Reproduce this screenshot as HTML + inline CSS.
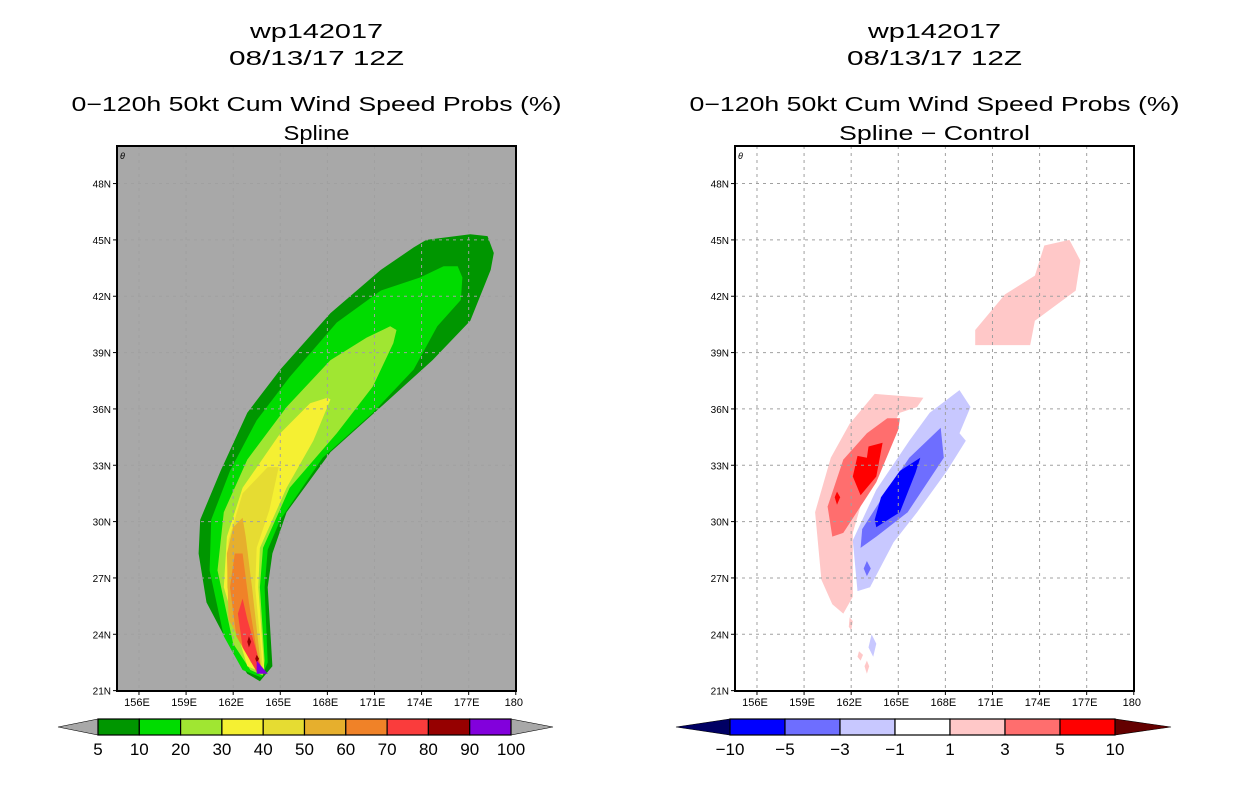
<!DOCTYPE html>
<html><head><meta charset="utf-8"><style>
body{margin:0;background:#fff;width:1236px;height:800px;overflow:hidden}
svg{position:absolute;left:0;top:0}
text{font-family:"Liberation Sans",sans-serif;fill:#000}
</style></head><body>
<svg id="s" width="1236" height="800"></svg>
<script>
// ---- axis data ----
const lonTicks=[156,159,162,165,168,171,174,177,180];
const lonLabels=["156E","159E","162E","165E","168E","171E","174E","177E","180"];
const latTicks=[21,24,27,30,33,36,39,42,45,48];
const latLabels=["21N","24N","27N","30N","33N","36N","39N","42N","45N","48N"];
// ---- left panel probability contours [lon,lat] ----
const probColors=["#009600","#00dc00","#a0e632","#f5f032","#e6dc32","#e6af2d","#f08228","#fa3c3c","#960000","#8200dc"];
const probLevels=["5","10","20","30","40","50","60","70","80","90","100"];
const prob5=[[163.7,21.5],[164.5,22.3],[164.2,26.5],[164.5,28.3],[165.4,30.5],[168.2,33.7],[171.4,36.1],[174.7,38.6],[177.1,40.7],[178.4,43.4],[178.6,44.3],[178.2,45.2],[177.1,45.3],[174.3,45.0],[173.5,44.6],[171.4,43.4],[168.2,41.1],[165.0,38.1],[162.9,35.8],[161.2,32.7],[159.9,30.1],[159.8,28.3],[160.3,25.7],[162.0,23.0],[162.9,21.9]];
const prob10=[[163.8,21.7],[164.2,22.5],[164.0,26.5],[164.2,28.5],[165.0,30.1],[167.7,33.4],[170.9,35.8],[173.5,38.1],[175.0,40.4],[176.5,41.8],[176.6,43.0],[176.3,43.6],[175.4,43.6],[173.9,43.0],[171.4,42.3],[168.6,40.6],[165.6,37.7],[163.5,35.4],[161.8,32.7],[160.6,30.1],[160.5,27.4],[161.4,23.9],[162.6,22.1]];
const prob20=[[163.9,21.8],[164.0,22.6],[163.7,26.5],[163.9,28.6],[165.6,31.8],[168.6,34.7],[170.9,37.2],[172.2,39.5],[172.4,40.2],[172.0,40.4],[170.5,39.8],[168.2,38.6],[165.4,36.1],[162.9,33.3],[161.4,30.5],[161.0,27.4],[162.0,23.5],[163.1,22.1]];
const prob30=[[164.0,21.9],[163.6,26.5],[163.7,28.6],[165.4,31.8],[167.1,34.3],[168.2,36.5],[168.0,36.6],[166.9,36.3],[165.0,34.7],[162.6,31.8],[161.6,29.2],[161.4,26.5],[162.9,22.3]];
const prob40=[[163.9,22.1],[163.4,26.5],[163.5,28.6],[164.3,30.6],[164.9,32.9],[164.2,32.9],[162.6,31.5],[161.7,29.0],[161.6,26.5],[163.1,22.5]];
const prob50=[[163.8,22.1],[163.2,26.5],[162.8,29.2],[162.6,30.2],[162.0,29.7],[161.6,28.3],[161.7,24.8],[163.2,22.5]];
const prob60=[[163.7,22.1],[163.0,25.7],[162.6,28.3],[162.1,28.3],[161.8,26.5],[162.2,23.9],[163.3,22.3]];
const prob70=[[163.9,21.9],[162.9,24.8],[162.6,25.9],[162.3,25.1],[162.6,23.3],[163.5,22.0]];
const prob80a=[[163.0,23.9],[163.15,23.6],[163.0,23.3],[162.9,23.6]];
const prob80b=[[163.5,22.9],[163.65,22.7],[163.5,22.5],[163.4,22.7]];
const prob90=[[163.5,22.6],[164.2,21.9],[163.5,21.9]];
const leftLayers=[[prob5,0],[prob10,1],[prob20,2],[prob30,3],[prob40,4],[prob50,5],[prob60,6],[prob70,7],[prob80a,8],[prob80b,8],[prob90,9]];
// ---- right panel difference contours ----
const diffColors=["#0000ff","#6e6eff","#c8c8ff","#ffffff","#ffc8c8","#ff6e6e","#ff0000"];
const diffLevels=["-10","-5","-3","-1","1","3","5","10"];
const posLight=[[163.5,36.8],[166.6,36.6],[166.2,36.1],[165.1,35.8],[163.8,34.0],[162.9,31.7],[162.1,29.4],[162.1,26.0],[161.5,25.1],[160.8,25.6],[160.1,26.9],[159.7,30.5],[160.7,33.4],[161.9,35.2]];
const posLight2=[[169.9,39.4],[173.4,39.4],[173.7,40.7],[176.3,42.3],[176.6,43.9],[175.9,45.0],[174.3,44.7],[173.7,43.1],[171.8,42.1],[169.9,40.2]];
const posLight3=[[161.9,24.9],[162.1,24.7],[162.0,24.2],[161.85,24.4]];
const posLight4=[[162.5,23.1],[162.75,22.9],[162.6,22.6],[162.4,22.8]];
const posLight5=[[163.0,22.6],[163.15,22.3],[163.0,21.9],[162.85,22.3]];
const posMid=[[165.1,35.5],[165.0,34.9],[163.6,32.1],[161.5,29.4],[160.8,29.2],[160.5,30.8],[161.5,33.3],[163.0,34.7],[164.3,35.5]];
const posHigh=[[164.0,34.2],[163.6,32.4],[162.6,31.4],[162.1,32.4],[162.4,33.5],[163.0,33.4],[163.1,34.0]];
const posHigh2=[[161.1,31.6],[161.3,31.3],[161.1,30.9],[160.95,31.3]];
const negLight=[[167.0,35.8],[168.9,37.0],[169.6,36.1],[168.9,34.7],[169.3,34.3],[168.1,32.7],[166.2,30.5],[164.7,28.9],[163.2,26.5],[162.4,26.3],[162.1,29.0],[163.6,31.7],[165.7,34.3]];
const negLight2=[[163.3,24.0],[163.6,23.5],[163.4,22.8],[163.1,23.3]];
const negMid=[[167.7,35.0],[167.9,33.4],[165.6,30.5],[163.6,29.2],[162.6,28.6],[162.7,29.6],[164.0,31.3],[165.7,33.4]];
const negMid2=[[163.0,27.9],[163.25,27.5],[163.0,27.1],[162.8,27.5]];
const negHigh=[[166.4,33.4],[166.1,32.6],[165.1,30.5],[163.6,29.7],[163.5,30.1],[163.9,31.3],[165.1,32.7]];
const rightLayers=[[posLight,4],[posLight2,4],[posLight3,4],[posLight4,4],[posLight5,4],[posMid,5],[posHigh,6],[posHigh2,6],[negLight,2],[negLight2,2],[negMid,1],[negMid2,1],[negHigh,0]];

const NS="http://www.w3.org/2000/svg";
const svg=document.getElementById('s');
function mk(t,a,p){const e=document.createElementNS(NS,t);for(const k in a)e.setAttribute(k,a[k]);(p||svg).appendChild(e);return e;}
const LON0=154.6,LAT1=50,PXD=15.7,PYD=18.78,W=399,H=545,Y0=146;
function panel(x0,bg,layers,colors,titles,tw,name){
  const g=mk('g',{});
  
  
  const xs=lon=>x0+(lon-LON0)*PXD, ys=lat=>Y0+(LAT1-lat)*PYD;
  const cx=x0+W/2;
  titles.forEach((t,i)=>{const tx=mk('text',{x:cx,y:[38,65,111,140][i],'text-anchor':'middle','font-size':20,textLength:tw[i],lengthAdjust:'spacingAndGlyphs'},g);tx.textContent=t;
    
    });
  const bgr=mk('rect',{x:x0,y:Y0,width:W,height:H,fill:bg},g);
  
  
  const cg=mk('g',{},g);
  layers.forEach(([pts,ci])=>{const p=mk('polygon',{points:pts.map(q=>xs(q[0]).toFixed(1)+','+ys(q[1]).toFixed(1)).join(' '),fill:colors[ci]},cg);
    
    });
  lonTicks.forEach((l,i)=>{const x=xs(l);
    if(i<lonTicks.length-1)mk('line',{x1:x,x2:x,y1:Y0,y2:Y0+H,stroke:'#a0a0a0','stroke-dasharray':'3,4'},g);
    mk('line',{x1:x,x2:x,y1:Y0+H,y2:Y0+H+4,stroke:'#000'},g);
    const t=mk('text',{x:x-2,y:Y0+H+15,'text-anchor':'middle','font-size':11},g);t.textContent=lonLabels[i];
    
    });
  latTicks.forEach((l,i)=>{const y=ys(l);
    if(i>0)mk('line',{x1:x0,x2:x0+W,y1:y,y2:y,stroke:'#a0a0a0','stroke-dasharray':'3,4'},g);
    mk('line',{x1:x0-4,x2:x0,y1:y,y2:y,stroke:'#000'},g);
    const t=mk('text',{x:x0-6,y:y+4,'text-anchor':'end','font-size':10},g);t.textContent=latLabels[i];
    
    });
  mk('rect',{x:x0,y:Y0,width:W,height:H,fill:'none',stroke:'#000','stroke-width':2},g);
  const m=mk('text',{x:x0+3,y:Y0+13,'font-size':9,'font-style':'italic'},g);m.textContent='\u03b8';
}
function colorbar(x0,x1,tipL,tipR,colors,leftC,rightC,labels,name){
  const g=mk('g',{});
  
  
  const y0=719,y1=735,ym=727,n=colors.length,w=(x1-x0)/n;
  mk('polygon',{points:`${tipL},${ym} ${x0},${y0} ${x0},${y1}`,fill:leftC,stroke:'#000','stroke-width':0.6},g);
  mk('polygon',{points:`${tipR},${ym} ${x1},${y0} ${x1},${y1}`,fill:rightC,stroke:'#000','stroke-width':0.6},g);
  colors.forEach((c,i)=>{const r=mk('rect',{x:x0+i*w,y:y0,width:w,height:y1-y0,fill:c,stroke:'#000','stroke-width':1.2},g);
    
    });
  labels.forEach((l,i)=>{const t=mk('text',{x:x0+i*w,y:755,'text-anchor':'middle','font-size':17},g);t.textContent=l.replace('-','\u2212');
    
    });
}
panel(117,'#a8a8a8',leftLayers,probColors,["wp142017","08/13/17 12Z","0\u2212120h 50kt Cum Wind Speed Probs (%)","Spline"],[133,175,490,66],'left-map-panel');
panel(735,'#ffffff',rightLayers,diffColors,["wp142017","08/13/17 12Z","0\u2212120h 50kt Cum Wind Speed Probs (%)","Spline \u2212 Control"],[133,175,490,191],'right-map-panel');
colorbar(98,511,58,553,probColors,'#a8a8a8','#a8a8a8',probLevels,'left-colorbar');
colorbar(730,1115,676,1171,diffColors,'#000064','#640000',diffLevels,'right-colorbar');
</script>
</body></html>
